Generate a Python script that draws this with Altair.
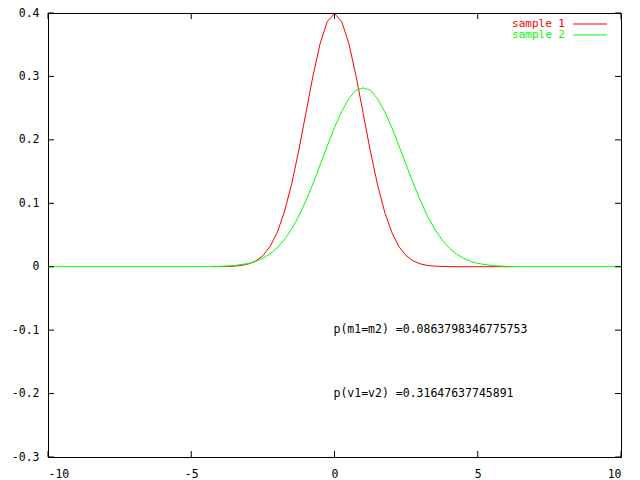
import altair as alt
import pandas as pd

# ---- data ----
series = ["sample 1", "sample 2"]
colors = ["#ff0000", "#00ff00"]

s1_x = [-4.25, -3.75, -3.5, -3.25, -3.0, -2.75, -2.5, -2.25, -2.0, -1.75, -1.5, -1.25, -1.0, -0.75,
        -0.5, -0.25, 0.0, 0.25, 0.5, 0.75, 1.0, 1.25, 1.5, 1.75, 2.0, 2.25, 2.5, 2.75, 3.0,
        3.25, 3.5, 4.0, 4.5, 5.0, 5.5, 6.24]
s1_y = [0.0, 0.0004, 0.0009, 0.002, 0.0044, 0.009, 0.0175, 0.0317, 0.054, 0.0863, 0.1295, 0.1826,
        0.242, 0.3011, 0.3521, 0.3867, 0.3989, 0.3867, 0.3521, 0.3011, 0.242, 0.1826, 0.1295,
        0.0863, 0.054, 0.0317, 0.0175, 0.009, 0.0044, 0.002, 0.0009, 0.0001, 0.0, 0.0, 0.0, 0.0]

s2_x = [-10.0, -7.0, -6.0, -5.0, -4.5, -4.0, -3.5, -3.0, -2.75, -2.5, -2.25, -2.0, -1.75, -1.5,
        -1.25, -1.0, -0.75, -0.5, -0.25, 0.0, 0.25, 0.5, 0.75, 1.0, 1.25, 1.5, 1.75, 2.0, 2.25,
        2.5, 2.75, 3.0, 3.25, 3.5, 3.75, 4.0, 4.25, 4.5, 4.75, 5.0, 5.5, 6.0, 6.5, 7.0, 8.0, 10.0]
s2_y = [0.0, 0.0, 0.0, 0.0001, 0.0002, 0.0005, 0.0018, 0.0052, 0.0084, 0.0132, 0.0201, 0.0297,
        0.0426, 0.0591, 0.0794, 0.1037, 0.1313, 0.1607, 0.1906, 0.2196, 0.2447, 0.2649, 0.2782,
        0.282, 0.2782, 0.2649, 0.2447, 0.2196, 0.1906, 0.1607, 0.1313, 0.1037, 0.0794, 0.0591,
        0.0426, 0.0297, 0.0201, 0.0132, 0.0084, 0.0052, 0.0018, 0.0005, 0.0001, 0.0, 0.0, 0.0]

x_ticks = [-10, -5, 0, 5, 10]
y_ticks = [-0.3, -0.2, -0.1, 0.0, 0.1, 0.2, 0.3, 0.4]

labels_x = [0, 0]
labels_y = [-0.1, -0.2]
labels_t = ["p(m1=m2) =0.0863798346775753", "p(v1=v2) =0.31647637745891"]

# ---- build ----
W, H = 573, 444
FONT = "DejaVu Sans Mono"
FS = 11.5

lines = pd.concat([
    pd.DataFrame({"x": s1_x, "y": s1_y, "series": series[0]}),
    pd.DataFrame({"x": s2_x, "y": s2_y, "series": series[1]}),
])

xs = alt.Scale(domain=[-10, 10], nice=False, zero=False)
ys = alt.Scale(domain=[-0.3, 0.4], nice=False, zero=False)
cs = alt.Scale(domain=series, range=colors)

line_layer = alt.Chart(lines).mark_line(strokeWidth=1, clip=True).encode(
    x=alt.X("x:Q", scale=xs, axis=alt.Axis(values=x_ticks, title=None, labelExpr="toString(datum.value)",
                                           labelPadding=11)),
    y=alt.Y("y:Q", scale=ys, axis=alt.Axis(values=y_ticks, title=None,
                                           labelExpr="toString(round(datum.value*10)/10)",
                                           labelPadding=9)),
    color=alt.Color("series:N", scale=cs, legend=None),
    detail="series:N",
)

xt = pd.DataFrame({"v": x_ticks})
yt = pd.DataFrame({"v": y_ticks})
TL = 6
xtick_bot = alt.Chart(xt).mark_rule(color="black", strokeWidth=1).encode(
    x=alt.X("v:Q", scale=xs, title=None), y=alt.value(H), y2=alt.value(H - TL))
xtick_top = alt.Chart(xt).mark_rule(color="black", strokeWidth=1).encode(
    x=alt.X("v:Q", scale=xs, title=None), y=alt.value(0), y2=alt.value(TL))
ytick_l = alt.Chart(yt).mark_rule(color="black", strokeWidth=1).encode(
    y=alt.Y("v:Q", scale=ys, title=None), x=alt.value(0), x2=alt.value(TL))
ytick_r = alt.Chart(yt).mark_rule(color="black", strokeWidth=1).encode(
    y=alt.Y("v:Q", scale=ys, title=None), x=alt.value(W), x2=alt.value(W - TL))

lab = pd.DataFrame({"x": labels_x, "y": labels_y, "t": labels_t})
text_layer = alt.Chart(lab).mark_text(align="left", baseline="middle", font=FONT, fontSize=FS,
                                      color="black", dx=-1).encode(
    x=alt.X("x:Q", scale=xs, title=None), y=alt.Y("y:Q", scale=ys, title=None), text="t:N")

legend_layers = []
for i, (name, col) in enumerate(zip(series, colors)):
    d = pd.DataFrame({"series": [name]})
    ypix = 11 + 11 * i
    legend_layers.append(alt.Chart(d).mark_text(align="right", baseline="middle", font=FONT,
                                                fontSize=11, color=col).encode(
        x=alt.value(517), y=alt.value(ypix), text="series:N"))
    legend_layers.append(alt.Chart(d).mark_rule(color=col, strokeWidth=1).encode(
        x=alt.value(525), x2=alt.value(559), y=alt.value(ypix)))

chart = alt.layer(line_layer, xtick_bot, xtick_top, ytick_l, ytick_r, text_layer, *legend_layers).properties(
    width=W, height=H,
    autosize=alt.AutoSizeParams(type="none"),
    padding={"left": 40, "top": 5, "right": 11, "bottom": 24},
    background="white",
).configure_view(stroke="black", strokeWidth=1).configure_axis(
    domain=False, ticks=False, grid=False, labelFont=FONT, labelFontSize=FS, labelColor="black",
)

chart.save("out.html", embed_options={"renderer": "svg", "actions": False})
